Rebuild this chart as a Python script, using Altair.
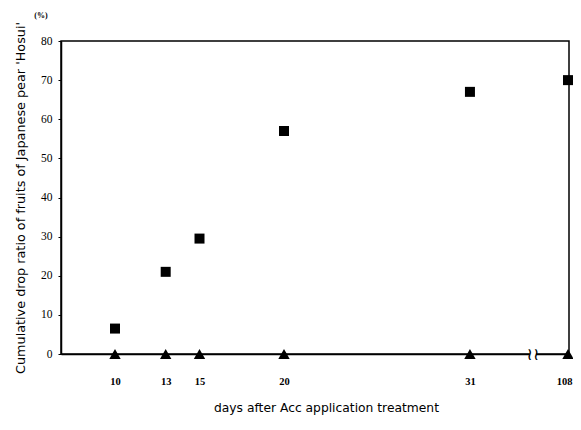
import altair as alt
import pandas as pd

days = [10, 13, 15, 20, 31, 108]
acc_drop = [6.5, 21, 29.5, 57, 67, 70]
control_drop = [0, 0, 0, 0, 0, 0]
BREAK_POS = 36.8  # position used for the broken axis (108 days)

def pos(d):
    return d if d <= 31 else BREAK_POS

xpos = [pos(d) for d in days]
df_sq = pd.DataFrame({"x": xpos, "y": acc_drop})
df_tr = pd.DataFrame({"x": xpos, "y": control_drop})

xscale = alt.Scale(domain=[6.806, 36.86], nice=False, zero=False)
yscale = alt.Scale(domain=[0, 80], nice=False)

xaxis = alt.Axis(
    values=xpos,
    labelExpr="datum.value > 31 ? '108' : datum.label",
    title="days after Acc application treatment",
    titleFont="DejaVu Sans", titleFontSize=12.3, titleFontWeight="normal",
    titlePadding=15, titleColor="black", titleX=265,
    labelFont="Liberation Serif", labelFontSize=10.5, labelFontWeight="bold",
    labelPadding=22, labelColor="black", labelFlush=4, labelFlushOffset=4,
    ticks=False, domainColor="black", domainWidth=1.5, grid=False,
)
yaxis = alt.Axis(
    values=list(range(0, 81, 10)),
    title="Cumulative drop ratio of fruits of Japanese pear 'Hosui'",
    titleFont="DejaVu Sans", titleFontSize=12.8, titleFontWeight="normal",
    titlePadding=13, titleColor="black",
    labelFont="Liberation Serif", labelFontSize=11.5, labelColor="black",
    tickSize=3, tickColor="black", labelPadding=6,
    domainColor="black", domainWidth=1.5, grid=False,
)

X = alt.X("x:Q", scale=xscale, axis=xaxis)
Y = alt.Y("y:Q", scale=yscale, axis=yaxis)

squares = alt.Chart(df_sq).mark_point(shape="square", filled=True, color="black", size=100, opacity=1).encode(
    x=X, y=Y,
)
triangles = alt.Chart(df_tr).mark_point(shape="triangle-up", filled=True, color="black", size=130, opacity=1).encode(
    x=X, y=Y,
)

brk = alt.Chart(pd.DataFrame({"x": [34.73], "y": [0], "t": ["\u2240\u2240"]})).mark_text(
    font="DejaVu Sans", fontSize=17, color="black", dy=1
).encode(x=X, y=Y, text="t:N")

brk_bg = alt.Chart(pd.DataFrame({"x": [34.73], "y": [0]})).mark_point(
    shape="square", filled=True, color="white", size=40, opacity=1
).encode(x=X, y=Y)

pct = alt.Chart(pd.DataFrame({"t": ["(%)"]})).mark_text(
    font="Liberation Serif", fontSize=8, color="black", fontWeight="bold"
).encode(x=alt.value(-20), y=alt.value(-25), text="t:N")

chart = alt.layer(squares, triangles, brk_bg, brk, pct).properties(
    width=508, height=313,
    autosize=alt.AutoSizeParams(type="none"),
    padding={"left": 53, "top": 33, "right": 4, "bottom": 67},
).configure(background="white").configure_view(stroke="black", strokeWidth=1.5)

chart.save("out.html", embed_options={"renderer": "svg", "actions": False})
